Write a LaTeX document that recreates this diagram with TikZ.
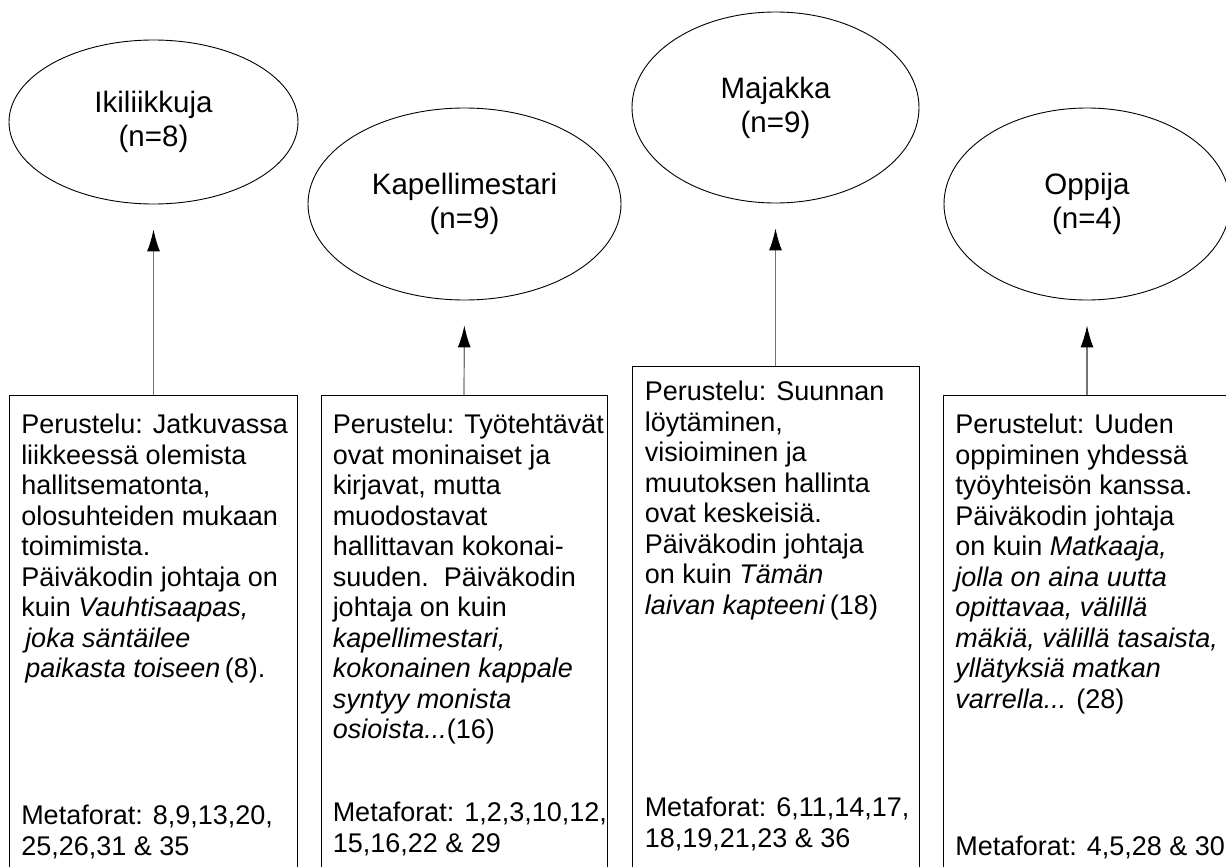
\documentclass[tikz,border=0pt]{standalone}
\usepackage{fontspec}
\setmainfont{Liberation Sans}
\usetikzlibrary{shapes.geometric,arrows.meta,positioning}

\begin{document}
\begin{tikzpicture}[x=1pt,y=-1pt,
	metafora/.style={ellipse,draw,line width=0.9pt,inner sep=0pt,align=center,font=\fontsize{29.5}{34}\selectfont},
	perustelu/.style={draw,line width=0.9pt,minimum width=288pt,minimum height=520pt,anchor=north,inner sep=0pt},
	teksti/.style={inner sep=0pt,align=left,anchor=north west,font=\fontsize{27}{30.5}\selectfont},
	nuoli/.style={black!55,line width=1.2pt,shorten >=25pt,-{Latex[length=22pt,width=13pt,color=black]}}]
	\useasboundingbox (0,0) rectangle (1226,867);
	\clip (0,0) rectangle (1226,867);

	% ellipsit
	\node[metafora,minimum width=289pt,minimum height=164pt] (ikiliikkuja) at (153.5,122) {Ikiliikkuja\\(n=8)};
	\node[metafora,minimum width=313pt,minimum height=192pt] (kapellimestari) at (464.5,204) {Kapellimestari\\(n=9)};
	\node[metafora,minimum width=287pt,minimum height=191pt] (majakka) at (775.5,107.5) {Majakka\\(n=9)};
	\node[metafora,minimum width=286pt,minimum height=192pt] (oppija) at (1087,204) {Oppija\\(n=4)};

	% laatikot
	\node[perustelu] (b1) at (153.5,395) {};
	\node[perustelu,minimum width=286pt] (b2) at (464,395) {};
	\node[perustelu,minimum width=287pt] (b3) at (775.5,366) {};
	\node[perustelu,minimum width=287pt] (b4) at (1087,395) {};

	\node[teksti,below right=19pt and 12pt of b1.north west] (p1) {Perustelu: Jatkuvassa\\liikkeessä olemista\\hallitsematonta,\\olosuhteiden mukaan\\toimimista.\\Päiväkodin johtaja on\\kuin \textit{Vauhtisaapas,}\\\hspace{4pt}\textit{joka säntäilee}\\\hspace{4pt}\textit{paikasta toiseen}\,(8).};
	\node[teksti,below right=410pt and 12pt of b1.north west] (m1) {Metaforat: 8,9,13,20,\\25,26,31 \& 35};

	\node[teksti,below right=19pt and 12pt of b2.north west] (p2) {Perustelu: Työtehtävät\\ovat moninaiset ja\\kirjavat, mutta\\muodostavat\\hallittavan kokonai-\\suuden.\ \ Päiväkodin\\johtaja on kuin\\\textit{kapellimestari,}\\\textit{kokonainen kappale}\\\textit{syntyy monista}\\\textit{osioista...}(16)};
	\node[teksti,below right=407pt and 12pt of b2.north west] (m2) {Metaforat: 1,2,3,10,12,\\15,16,22 \& 29};

	\node[teksti,below right=15pt and 13pt of b3.north west] (p3) {Perustelu: Suunnan\\löytäminen,\\visioiminen ja\\muutoksen hallinta\\ovat keskeisiä.\\Päiväkodin johtaja\\on kuin \textit{Tämän}\\\textit{laivan kapteeni}\,(18)};
	\node[teksti,below right=431pt and 13pt of b3.north west] (m3) {Metaforat: 6,11,14,17,\\18,19,21,23 \& 36};

	\node[teksti,below right=19pt and 12pt of b4.north west] (p4) {Perustelut: Uuden\\oppiminen yhdessä\\työyhteisön kanssa.\\Päiväkodin johtaja\\on kuin \textit{Matkaaja,}\\\textit{jolla on aina uutta}\\\textit{opittavaa, välillä}\\\textit{mäkiä, välillä tasaista,}\\\textit{yllätyksiä matkan}\\\textit{varrella...} (28)};
	\node[teksti,below right=441pt and 12pt of b4.north west] (m4) {Metaforat: 4,5,28 \& 30};

	% nuolet
	\draw[nuoli] (b1.north) -- (ikiliikkuja.south);
	\draw[nuoli] (b2.north) -- (kapellimestari.south);
	\draw[nuoli] (b3.north) -- (majakka.south);
	\draw[nuoli] (b4.north) -- (oppija.south);
\end{tikzpicture}
\end{document}
